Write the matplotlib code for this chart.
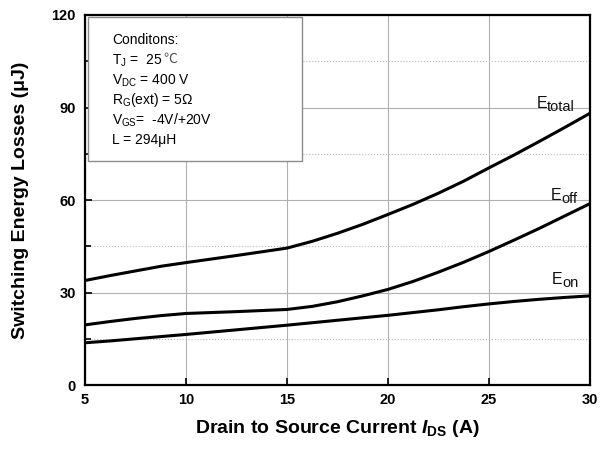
import numpy as np
import matplotlib.pyplot as plt
from matplotlib.ticker import MultipleLocator

plt.rcParams['font.family'] = ['Liberation Sans', 'DejaVu Sans']
plt.rcParams['mathtext.fontset'] = 'custom'
plt.rcParams['mathtext.rm'] = 'Liberation Sans'
plt.rcParams['mathtext.bf'] = 'Liberation Sans:bold'
plt.rcParams['mathtext.it'] = 'Liberation Sans:bold:italic'

# Datos (I_DS en A, energia en uJ)
i_ds = [5, 6.25, 7.5, 8.75, 10, 12.5, 15, 16.25, 17.5, 18.75, 20,
        21.25, 22.5, 23.75, 25, 26.25, 27.5, 28.75, 30]
e_total = [33.9, 35.5, 37.0, 38.5, 39.7, 42.0, 44.4, 46.6, 49.2, 52.1, 55.3,
           58.6, 62.2, 66.1, 70.4, 74.6, 79.0, 83.5, 88.1]
e_off = [19.5, 20.6, 21.6, 22.5, 23.2, 23.8, 24.5, 25.5, 27.0, 28.9, 31.0,
         33.6, 36.6, 39.8, 43.3, 47.0, 50.8, 54.8, 58.8]
e_on = [13.7, 14.3, 15.0, 15.7, 16.4, 17.9, 19.4, 20.2, 21.0, 21.8, 22.6,
        23.5, 24.4, 25.4, 26.3, 27.1, 27.8, 28.4, 28.9]

# etiquetas de curva: (subindice, x del "E", y de la linea base)
etiquetas = [('total', 27.36, 89.9), ('off', 28.07, 60.1), ('on', 28.12, 32.8)]

condiciones = ['Conditons:',
               r'T$_{\rm J}$ =  25 ',
               r'V$_{\rm DC}$ = 400 V',
               r'R$_{\rm G}$(ext) = 5Ω',
               r'V$_{\rm GS}$=  -4V/+20V',
               'L = 294μH']

fig = plt.figure(figsize=(6, 4.49), dpi=100)
ax = fig.add_axes([0.1417, 0.1425, 0.8413, 0.8241])

for serie in (e_total, e_off, e_on):
    ax.plot(i_ds, serie, color='black', linewidth=2.2, zorder=3)

ax.set_xlim(5, 30)
ax.set_ylim(0, 120)
ax.xaxis.set_major_locator(MultipleLocator(5))
ax.yaxis.set_major_locator(MultipleLocator(30))
ax.yaxis.set_minor_locator(MultipleLocator(15))
ax.grid(which='major', color='#b0b0b0', linewidth=0.8)
ax.grid(which='minor', axis='y', color='#b8b8b8', linewidth=0.8, linestyle=':')
ax.tick_params(which='both', direction='in', labelsize=10.5, width=1.2)
ax.tick_params(axis='y', pad=6.5)
ax.tick_params(axis='x', pad=5.5)
ax.tick_params(which='major', length=5)
ax.tick_params(which='minor', length=4)
for lbl in ax.get_xticklabels() + ax.get_yticklabels():
    lbl.set_fontweight('bold')
for s in ax.spines.values():
    s.set_linewidth(1.6)

ax.set_xlabel(r'Drain to Source Current $I_{\mathbf{DS}}$ (A)',
              fontsize=14, fontweight='bold', labelpad=8)
ax.set_ylabel('Switching Energy Losses (μJ)', fontsize=14, fontweight='bold', labelpad=16)

for sub, xe, ye in etiquetas:
    te = ax.text(xe, ye, 'E', fontsize=11.5, ha='left', va='baseline', color='#111111')
    ax.annotate(sub, xy=(1, 0), xycoords=te, ha='left', va='baseline',
                fontsize=10.5, color='#111111')

ax.add_patch(plt.Rectangle((5.15, 72.5), 10.6, 47.0, facecolor='white',
                           edgecolor='#8c8c8c', linewidth=1.0, zorder=4))
for k, linea in enumerate(condiciones):
    t = ax.text(6.35, 111.8 - k * 6.5, linea, fontsize=10, va='center', zorder=5)
    if k == 1:
        ax.annotate('℃', xy=(1, 0.58), xycoords=t, va='center', ha='left',
                    fontsize=10, color='#555555', zorder=5,
                    family=['Noto Sans CJK SC', 'DejaVu Sans'])

plt.savefig('out.png', dpi=100)
plt.close()
